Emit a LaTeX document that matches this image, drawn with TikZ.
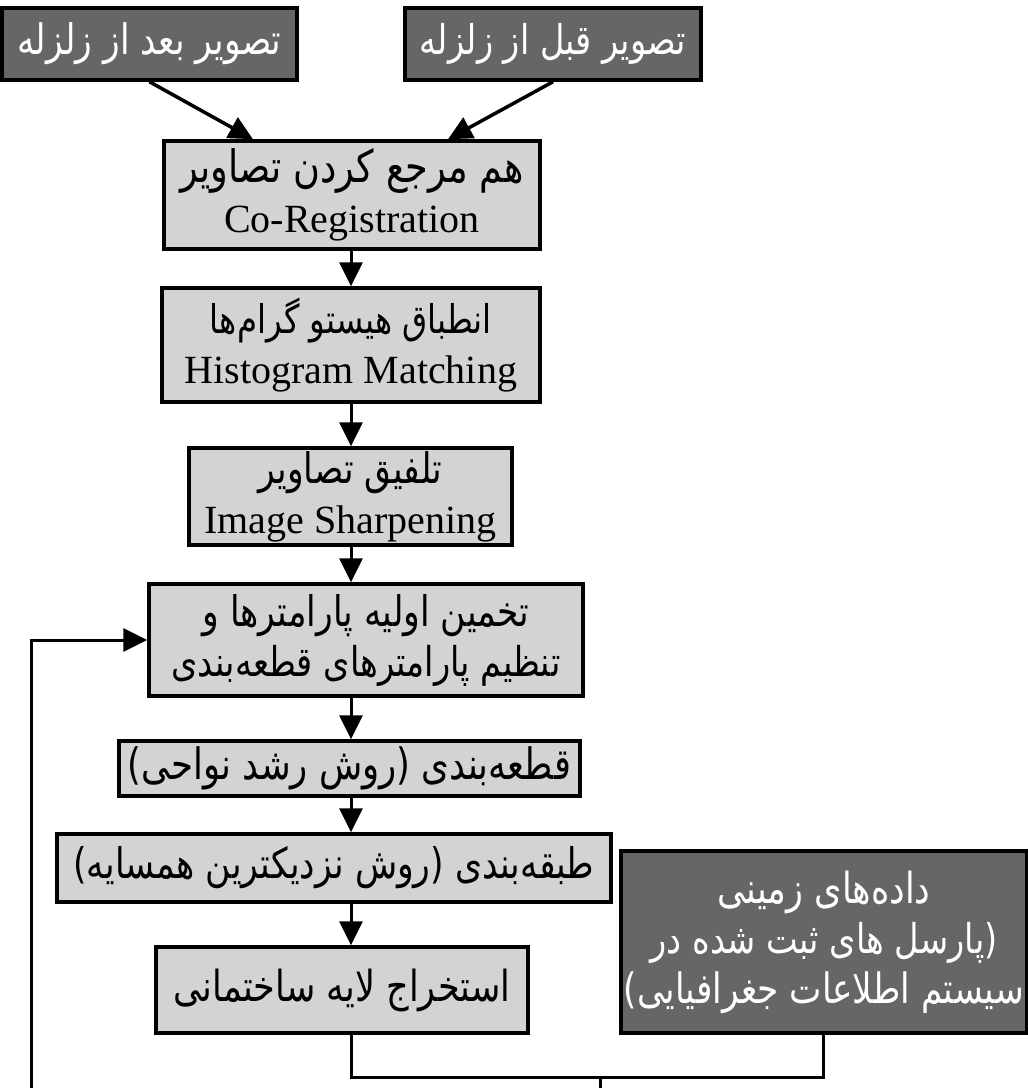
\documentclass[tikz,border=0pt]{standalone}
\usepackage{graphicx}
\usepackage{fontspec}
\setmainfont{Liberation Serif}
\newfontfamily\fa[Script=Arabic]{DejaVu Sans}
\TeXXeTstate=1
\usetikzlibrary{arrows.meta,calc}
\definecolor{darkfill}{RGB}{102,102,102}
\definecolor{lightfill}{RGB}{211,211,211}
\newcommand{\pl}[2]{\scalebox{1}[1.22]{\resizebox{#1pt}{!}{\fa #2}}}
\begin{document}
\begin{tikzpicture}[x=1pt,y=-1pt,
  lightbox/.style={draw=black, line width=3.5pt, fill=lightfill, align=center, inner sep=0pt, font=\fontsize{40}{50}\selectfont},
  darkbox/.style={lightbox, fill=darkfill, text=white},
  conn/.style={line width=3pt, line join=miter},
  arr/.style={conn, -{Triangle[length=24pt,width=23pt]}}]
\useasboundingbox (0,0) rectangle (1028,1088);
\clip (0,0) rectangle (1028,1088);
\fill[white] (0,0) rectangle (1028,1088);

\node[darkbox, minimum width=295pt, minimum height=72pt] (post) at (149.5,44) {\pl{264}{\beginR تصویر بعد از زلزله\endR}};
\node[darkbox, minimum width=296pt, minimum height=72pt] (pre) at (553,44) {\pl{266}{\beginR تصویر قبل از زلزله\endR}};
\node[lightbox, minimum width=376pt, minimum height=108pt] (coreg) at (352,195) {\pl{343}{\beginR هم مرجع کردن تصاویر\endR}\\Co-Registration};
\node[lightbox, minimum width=378pt, minimum height=114pt] (hist) at (351,345) {\pl{282}{\beginR انطباق هیستو گرام‌ها\endR}\\Histogram Matching};
\node[lightbox, minimum width=323pt, minimum height=97pt] (sharp) at (350.5,496.5) {\pl{184}{\beginR تلفیق تصاویر\endR}\\Image Sharpening};
\node[lightbox, minimum width=434pt, minimum height=112pt] (param) at (366,640) {\pl{327}{\beginR تخمین اولیه پارامترها و\endR}\\\pl{389}{\beginR تنظیم پارامترهای قطعه‌بندی\endR}};
\node[lightbox, minimum width=461pt, minimum height=55pt] (seg) at (349.5,768.5) {\pl{443}{\beginR قطعه‌بندی (روش رشد نواحی)\endR}};
\node[lightbox, minimum width=554pt, minimum height=68pt] (cls) at (334,868) {\pl{521}{\beginR طبقه‌بندی (روش نزدیکترین همسایه)\endR}};
\node[lightbox, minimum width=372pt, minimum height=86pt] (ext) at (342,990) {\pl{337}{\beginR استخراج لایه ساختمانی\endR}};
\node[darkbox, minimum width=406pt, minimum height=182pt] (ground) at (824,942) {\pl{213}{\beginR داده‌های زمینی\endR}\\\pl{347}{\beginR (پارسل های ثبت شده در\endR}\\\pl{400}{\beginR سیستم اطلاعات جغرافیایی)\endR}};

\coordinate (col) at (351,0);
\coordinate (gx) at (823,0);
\coordinate (mj) at (0,1077);
\coordinate (mo) at (600,1077);
\coordinate (me) at (600,1100);
\coordinate (fb) at (31,1100);

\draw[arr, line width=3.5pt] (post.south) -- ([xshift=-99pt]coreg.north);
\draw[arr, line width=3.5pt] (pre.south) -- ([xshift=96pt]coreg.north);
\draw[arr] (col |- coreg.south) -- (col |- hist.north);
\draw[arr] (col |- hist.south) -- (col |- sharp.north);
\draw[arr] (col |- sharp.south) -- (col |- param.north);
\draw[arr] (col |- param.south) -- (col |- seg.north);
\draw[arr] (col |- seg.south) -- (col |- cls.north);
\draw[arr] (col |- cls.south) -- (col |- ext.north);
\draw[arr] (fb) |- (param.west);
\draw[conn] (col |- ext.south) -- (col |- mj) -- (gx |- mj) -- (gx |- ground.south);
\draw[conn] (mo) -- (me);
\end{tikzpicture}
\end{document}
